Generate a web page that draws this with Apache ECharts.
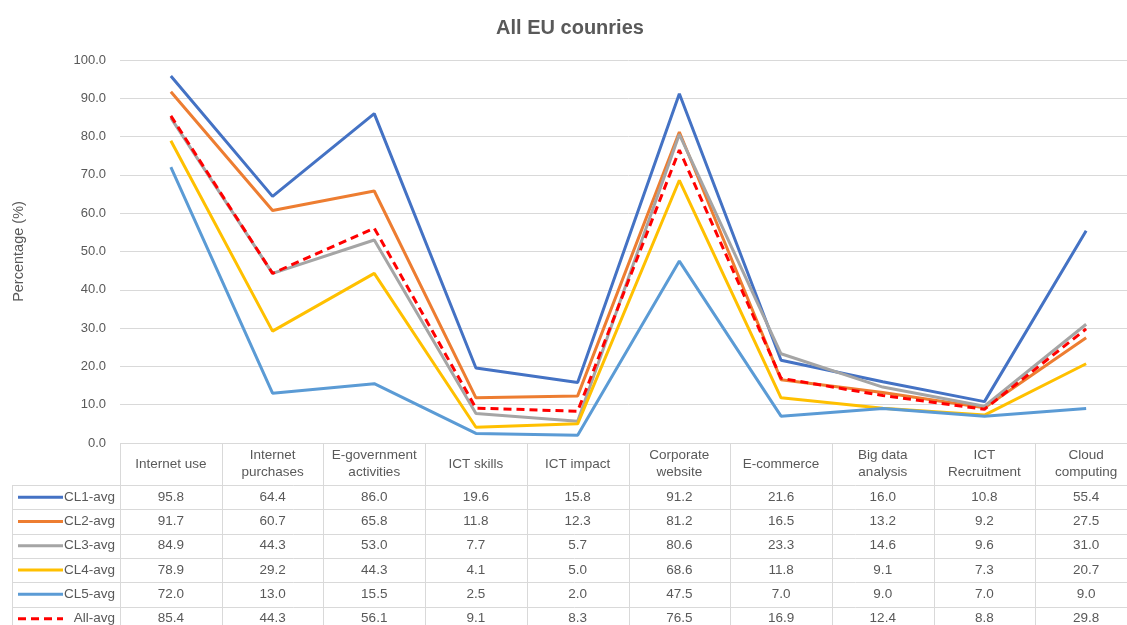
<!DOCTYPE html>
<html>
<head>
<meta charset="utf-8">
<script src="https://cdn.jsdelivr.net/npm/echarts@6/dist/echarts.min.js"></script>
<style>html,body{margin:0;padding:0;background:#fff;overflow:hidden;width:1127px;height:625px}#c{width:1140px;height:625px}</style>
</head>
<body>
<div id="c"></div>
<script>
var categories = ['Internet use', 'Internet purchases', 'E-government activities', 'ICT skills', 'ICT impact', 'Corporate website', 'E-commerce', 'Big data analysis', 'ICT Recruitment', 'Cloud computing'];
var headerLabels = ['Internet use', 'Internet\npurchases', 'E-government\nactivities', 'ICT skills', 'ICT impact', 'Corporate\nwebsite', 'E-commerce', 'Big data\nanalysis', 'ICT\nRecruitment', 'Cloud\ncomputing'];
var seriesNames = ['CL1-avg', 'CL2-avg', 'CL3-avg', 'CL4-avg', 'CL5-avg', 'All-avg'];
var cl1 = [95.8, 64.4, 86.0, 19.6, 15.8, 91.2, 21.6, 16.0, 10.8, 55.4];
var cl2 = [91.7, 60.7, 65.8, 11.8, 12.3, 81.2, 16.5, 13.2, 9.2, 27.5];
var cl3 = [84.9, 44.3, 53.0, 7.7, 5.7, 80.6, 23.3, 14.6, 9.6, 31.0];
var cl4 = [78.9, 29.2, 44.3, 4.1, 5.0, 68.6, 11.8, 9.1, 7.3, 20.7];
var cl5 = [72.0, 13.0, 15.5, 2.5, 2.0, 47.5, 7.0, 9.0, 7.0, 9.0];
var allAvg = [85.4, 44.3, 56.1, 9.1, 8.3, 76.5, 16.9, 12.4, 8.8, 29.8];
var yTicks = [0, 10, 20, 30, 40, 50, 60, 70, 80, 90, 100];

var seriesData = [cl1, cl2, cl3, cl4, cl5, allAvg];
var colors = ['#4472C4', '#ED7D31', '#A5A5A5', '#FFC000', '#5B9BD5', '#FF0000'];
var FONT = '"Liberation Sans", Arial, sans-serif';
var TXT = '#595959';
var BORDER = '#D9D9D9';

var chart = echarts.init(document.getElementById('c'), null, {renderer: 'canvas'});
var series = seriesNames.map(function (n, i) {
  return {
    name: n, type: 'line', data: seriesData[i], symbol: 'none', z: 2 + i,
    lineStyle: {color: colors[i], width: 3, type: i === 5 ? [8, 5] : 'solid'},
    itemStyle: {color: colors[i]}
  };
});

chart.setOption({
  animation: false,
  textStyle: {fontFamily: FONT},
  title: {text: 'All EU counries', left: 565, top: 13, textAlign: 'center',
    textStyle: {fontFamily: FONT, fontSize: 20, fontWeight: 'bold', color: TXT}},
  grid: {left: 120, right: 3, top: 60, height: 383, containLabel: false},
  xAxis: {
    type: 'category', data: categories, boundaryGap: true,
    axisLine: {show: false}, axisTick: {show: false},
    axisLabel: {show: true, interval: 0, margin: 21, verticalAlign: 'middle', lineHeight: 17,
      fontFamily: FONT, fontSize: 13.5, color: TXT,
      formatter: function (v, idx) { return headerLabels[idx]; }}
  },
  yAxis: {
    type: 'value', min: yTicks[0], max: yTicks[yTicks.length - 1], interval: 10,
    name: 'Percentage (%)', nameLocation: 'middle', nameGap: 94, nameRotate: 90,
    nameTextStyle: {fontFamily: FONT, fontSize: 14.5, color: TXT},
    axisLine: {show: false}, axisTick: {show: false},
    axisLabel: {margin: 14, fontFamily: FONT, fontSize: 13, color: TXT,
      formatter: function (v) { return v.toFixed(1); }},
    splitLine: {lineStyle: {color: BORDER, width: 1}}
  },
  series: series
});

function buildTable() {
  var xs = categories.map(function (c) { return chart.convertToPixel({xAxisIndex: 0}, c); });
  var cw = xs.length > 1 ? xs[1] - xs[0] : 100;
  var y0 = chart.convertToPixel({yAxisIndex: 0}, 0);
  var headerBottom = y0 + 42;
  var rowH = 24.3;
  var leftX = 12;
  var tableLeft = xs[0] - cw / 2;
  var tableRight = xs[xs.length - 1] + cw / 2;
  var els = [];
  function hline(x1, x2, y) {
    els.push({type: 'line', silent: true, z: 1, shape: {x1: x1, y1: Math.round(y) + 0.5, x2: x2, y2: Math.round(y) + 0.5},
      style: {stroke: BORDER, lineWidth: 1}});
  }
  function vline(x, y1, y2) {
    els.push({type: 'line', silent: true, z: 1, shape: {x1: Math.round(x) + 0.5, y1: y1, x2: Math.round(x) + 0.5, y2: y2},
      style: {stroke: BORDER, lineWidth: 1}});
  }
  var nRows = seriesNames.length;
  var bottom = headerBottom + rowH * (nRows + 1);
  hline(tableLeft, tableRight, y0);
  for (var r = 0; r <= nRows; r++) hline(leftX, tableRight, headerBottom + rowH * r);
  vline(leftX, headerBottom, bottom);
  for (var k = 0; k < xs.length; k++) vline(xs[k] - cw / 2, y0, bottom);
  vline(tableRight, y0, bottom);
  for (var i = 0; i < nRows; i++) {
    var cy = headerBottom + rowH * i + rowH / 2;
    els.push({type: 'line', silent: true, z: 3,
      shape: {x1: 18, y1: cy, x2: 63, y2: cy},
      style: {stroke: colors[i], lineWidth: 3, lineDash: i === 5 ? [8, 5] : null}});
    els.push({type: 'text', silent: true, z: 3, x: 115, y: cy,
      style: {text: seriesNames[i], fill: TXT, font: '13.5px ' + FONT, align: 'right', verticalAlign: 'middle'}});
    for (var j = 0; j < xs.length; j++) {
      els.push({type: 'text', silent: true, z: 3, x: xs[j], y: cy,
        style: {text: seriesData[i][j].toFixed(1), fill: TXT, font: '13.5px ' + FONT, align: 'center', verticalAlign: 'middle'}});
    }
  }
  chart.setOption({graphic: {elements: els}});
}
buildTable();
</script>
</body>
</html>
